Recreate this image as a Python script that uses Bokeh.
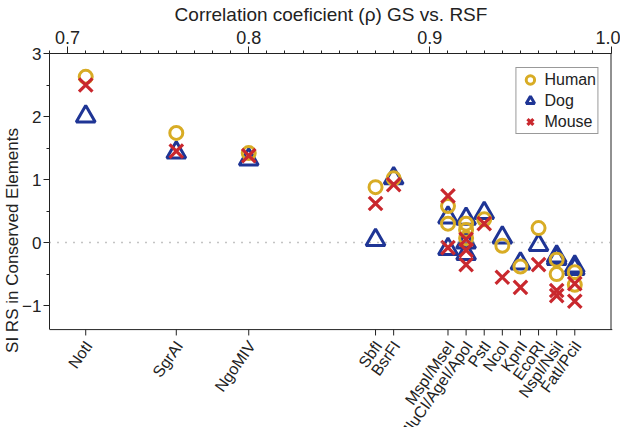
import math
from bokeh.plotting import figure
from bokeh.models import (FixedTicker, SingleIntervalTicker, Span, Legend,
                          LegendItem, Range1d, PrintfTickFormatter)
from bokeh.core.properties import value
from bokeh.embed import file_html
from bokeh.resources import INLINE

# ---- data ----
enzymes = ["NotI", "SgrAI", "NgoMIV", "SbfI", "BsrFI", "MspI", "MseI", "MluCI", "AgeI",
           "ApoI", "PstI", "NcoI", "KpnI", "EcoRI", "NspI", "NsiI", "FatI", "PciI"]
rho = [0.71, 0.76, 0.80, 0.87, 0.88, 0.91, 0.91, 0.92, 0.92,
       0.92, 0.93, 0.94, 0.95, 0.96, 0.97, 0.97, 0.98, 0.98]
human = [2.63, 1.74, 1.42, 0.88, 1.02, 0.58, 0.30, 0.30, 0.20,
         0.07, 0.37, -0.05, -0.38, 0.23, -0.27, -0.50, -0.47, -0.67]
dog = [2.00, 1.43, 1.32, 0.04, 1.02, 0.40, -0.10, 0.38, 0.00,
       -0.18, 0.47, 0.08, -0.33, -0.04, -0.22, -0.26, -0.38, -0.42]
mouse = [2.50, 1.45, 1.38, 0.62, 0.92, 0.74, -0.08, 0.05, -0.12,
         -0.35, 0.30, -0.55, -0.71, -0.35, -0.76, -0.84, -0.65, -0.93]

label_rho = [0.71, 0.76, 0.80, 0.87, 0.88, 0.91, 0.92, 0.93, 0.94, 0.95, 0.96, 0.97, 0.98]
label_names = ["NotI", "SgrAI", "NgoMIV", "SbfI", "BsrFI", "MspI/MseI", "MluCI/AgeI/ApoI",
               "PstI", "NcoI", "KpnI", "EcoRI", "NspI/NsiI", "FatI/PciI"]
y_ticks = [-1, 0, 1, 2, 3]
y_minor = [-0.5, 0.5, 1.5, 2.5]

# axis box limits
X_MIN, X_MAX = 0.69, 1.0
Y_MIN, Y_MAX = -1.38, 3.0
BOX_PX = 282          # pixel height of the axis box
FRAME_PX = 382        # frame runs down to the canvas bottom (room for rotated labels)
Y_LOW = Y_MAX - FRAME_PX * (Y_MAX - Y_MIN) / BOX_PX
TICK_DATA = 6 * (Y_MAX - Y_MIN) / BOX_PX
X_PAD = 1.5 * (X_MAX - X_MIN) / 565   # ~1.5 px so the right edge line is not clipped

FONT = "Liberation Sans"
GOLD = "#D8AC25"
NAVY = "#1F3595"
RED = "#C9282E"
AX = "#222222"
TXT = "#222222"

p = figure(width=620, height=427, x_range=Range1d(X_MIN, X_MAX + X_PAD),
           y_range=Range1d(Y_LOW, Y_MAX),
           x_axis_location="above", output_backend="svg", toolbar_location=None,
           min_border_left=30, min_border_right=8, min_border_top=45, min_border_bottom=0)
p.grid.visible = False
p.outline_line_color = None
p.background_fill_color = "white"
p.border_fill_color = "white"

top = p.xaxis[0]
top.ticker = SingleIntervalTicker(interval=0.1, num_minor_ticks=10)
top.formatter = PrintfTickFormatter(format="%.1f")
top.bounds = (X_MIN, X_MAX)
top.axis_label = "Correlation coeficient (\u03c1) GS vs. RSF"

yax = p.yaxis[0]
yax.ticker = FixedTicker(ticks=y_ticks, minor_ticks=y_minor)
yax.bounds = (Y_MIN, Y_MAX)
yax.axis_label = "SI RS in Conserved Elements"

for ax in (top, yax):
    ax.axis_line_color = AX
    ax.major_tick_line_color = AX
    ax.minor_tick_line_color = AX
    ax.major_tick_in = 0
    ax.major_tick_out = 7
    ax.minor_tick_in = 0
    ax.minor_tick_out = 3
    ax.major_label_text_font = FONT
    ax.major_label_text_font_size = "18px"
    ax.major_label_text_color = TXT
    ax.axis_label_text_font = FONT
    ax.axis_label_text_font_size = "19px"
    ax.axis_label_text_font_style = "normal"
    ax.axis_label_text_color = TXT
    ax.major_label_standoff = 3
    ax.axis_label_standoff = 3
yax.major_tick_out = 6
yax.major_label_standoff = 2
yax.axis_label_standoff = -3
yax.major_label_text_font_size = "17px"
yax.axis_label_text_font_size = "17px"

# right and bottom edges of the box, ticks at each enzyme correlation
p.segment(x0=[X_MAX], y0=[Y_MIN], x1=[X_MAX], y1=[Y_MAX], line_color=AX, line_width=1)
p.add_layout(Span(location=Y_MIN, dimension="width", line_color=AX, line_width=1))
p.segment(x0=label_rho, y0=[Y_MIN] * len(label_rho), x1=label_rho,
          y1=[Y_MIN - TICK_DATA] * len(label_rho), line_color=AX, line_width=1)
p.text(x=label_rho, y=[Y_MIN] * len(label_rho), text=label_names, angle=55, angle_units="deg",
       x_offset=3, y_offset=13, text_align="right", text_baseline="middle",
       text_font=value(FONT), text_font_size="16px", text_color=TXT)

p.add_layout(Span(location=0, dimension="width", line_color="#888888",
                  line_dash="1 7", line_width=1.5))

rd = p.scatter(rho, dog, marker="triangle", size=19, fill_color=None,
               line_color=NAVY, line_width=3)
rh = p.scatter(rho, human, marker="circle", size=13, fill_color=None,
               line_color=GOLD, line_width=3)
rm = p.scatter(rho, mouse, marker="x", size=19, line_color=RED, line_width=3.2)

legend = Legend(items=[LegendItem(label="Human", renderers=[rh]),
                       LegendItem(label="Dog", renderers=[rd]),
                       LegendItem(label="Mouse", renderers=[rm])],
                location="top_right")
legend.label_text_font = FONT
legend.label_text_font_size = "16px"
legend.label_text_color = TXT
legend.border_line_color = "#333333"
legend.border_line_width = 1
legend.glyph_width = 25
legend.glyph_height = 21
legend.label_height = 20
legend.spacing = 0
legend.padding = 1
legend.margin = 14
legend.label_standoff = 2
legend.background_fill_alpha = 1
p.add_layout(legend)

open("out.html", "w").write(file_html(p, INLINE))
